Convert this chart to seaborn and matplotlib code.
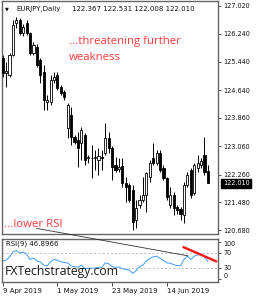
import matplotlib
matplotlib.use("Agg")
import matplotlib.pyplot as plt
import seaborn as sns
import pandas as pd
import numpy as np

# ---------------- data ----------------
opens = [125.55, 125.13, 125.07, 125.64, 126.54, 126.62, 126.26, 126.54, 126.26, 125.69,
         125.86, 125.49, 125.16, 124.30, 124.31, 124.93, 125.07, 124.73, 124.59, 123.57,
         123.94, 123.32, 123.23, 123.15, 123.38, 122.73, 122.73, 122.73, 122.67, 122.75,
         122.87, 123.29, 123.01, 122.53, 122.42, 122.50, 122.02, 121.96, 121.82, 120.97,
         121.40, 121.54, 121.68, 122.19, 122.73, 122.59, 122.87, 122.44, 122.16, 121.40,
         121.68, 121.34, 121.29, 121.12, 121.96, 122.39, 121.74, 122.44, 122.53, 122.81,
         122.367]
highs = [125.64, 125.44, 125.69, 126.62, 126.71, 126.68, 126.51, 126.62, 126.29, 126.00,
         125.95, 125.55, 125.35, 124.51, 125.07, 125.16, 125.16, 124.79, 124.65, 124.28,
         124.17, 123.38, 123.46, 123.60, 123.43, 122.81, 123.09, 122.95, 123.01, 122.95,
         123.72, 123.46, 123.07, 122.75, 122.73, 122.73, 122.19, 122.02, 121.96, 121.54,
         121.68, 122.19, 122.33, 122.67, 123.15, 122.95, 122.95, 122.53, 122.19, 121.91,
         121.77, 121.40, 121.34, 122.05, 122.33, 122.44, 122.59, 122.81, 122.73, 123.32,
         122.531]
lows = [125.01, 124.73, 125.01, 125.61, 126.40, 126.20, 126.17, 126.20, 125.64, 125.64,
        125.30, 124.85, 124.08, 124.08, 124.22, 124.85, 124.65, 124.51, 124.37, 123.29,
        123.09, 123.12, 122.47, 122.67, 122.53, 122.59, 122.16, 122.39, 122.25, 122.39,
        122.81, 122.87, 122.10, 122.33, 122.33, 121.91, 121.48, 121.48, 120.69, 120.75,
        121.31, 121.48, 121.20, 122.05, 122.53, 122.53, 122.33, 122.10, 121.54, 121.31,
        121.12, 121.14, 120.97, 120.89, 121.91, 121.60, 121.68, 122.33, 122.44, 122.25,
        122.008]
closes = [125.13, 125.18, 125.64, 126.48, 126.62, 126.26, 126.43, 126.26, 125.69, 125.92,
          125.35, 125.07, 124.37, 124.37, 124.93, 125.01, 124.70, 124.56, 124.45, 124.22,
          123.32, 123.18, 123.01, 123.52, 122.67, 122.75, 122.72, 122.75, 122.78, 122.74,
          123.29, 123.01, 122.47, 122.39, 122.47, 122.02, 121.91, 121.54, 120.92, 121.31,
          121.54, 121.68, 122.30, 122.59, 122.59, 122.87, 122.39, 122.16, 121.62, 121.68,
          121.31, 121.26, 121.14, 121.96, 122.25, 121.68, 122.53, 122.59, 122.64, 122.33,
          122.010]
rsi_values = [48, 50, 59, 72, 76, 69, 72, 66, 52, 56,
              48, 45, 37, 35, 46, 52, 50, 46, 44, 43,
              35, 33, 31, 37, 28, 28, 29, 29, 31, 31,
              43, 41, 33, 31, 32, 27, 26, 24, 15, 22,
              33, 37, 48, 55, 59, 61, 55, 50, 43, 42,
              38, 36, 35, 52, 61, 52, 61, 64, 66, 59,
              46.9]
date_labels = ["9 Apr 2019", "1 May 2019", "23 May 2019", "14 Jun 2019"]
date_ticks = [0, 16, 32, 48]
price_ticks = [127.020, 126.240, 125.440, 124.640, 123.860, 123.060, 122.260, 121.480, 120.680]
rsi_levels = [100, 70, 30, 0]
symbol_text = "EURJPY,Daily"
header_ohlc = "122.367 122.531 122.008 122.010"
last_price = 122.010
rsi_label = "RSI(9) 46.8966"
# annotation lines (bar index, RSI value)
black_trend_x = [9.9, 54.2]
black_trend_y = [135, 61.7]
red_trend_x = [52.6, 62.7]
red_trend_y = [86, 46]

# ---------------- style ----------------
sns.set_theme(style="white")
plt.rcParams['font.family'] = ['DejaVu Sans']

W, H = 257, 300
fig = plt.figure(figsize=(W / 100, H / 100), dpi=100)
fig.patch.set_facecolor('white')


def fx(px):
    return px / W


def fy(py):
    return 1 - py / H


ax = fig.add_axes([fx(2), fy(234), fx(218) - fx(2), fy(1) - fy(234)])
axr = fig.add_axes([fx(2), fy(282), fx(218) - fx(2), fy(238.5) - fy(282)])

df = pd.DataFrame(dict(i=np.arange(len(closes)), o=opens, h=highs, l=lows,
                       c=closes, rsi=rsi_values))
up = df.c >= df.o
body_bottom = np.minimum(df.o, df.c)
body_h = np.maximum(np.abs(df.c - df.o), 0.012)

ax.vlines(df.i, df.l, df.h, color='black', lw=0.7, zorder=2)
ax.bar(df.i[up], body_h[up], bottom=body_bottom[up], width=0.62,
       color='white', edgecolor='black', linewidth=0.6, zorder=3)
ax.bar(df.i[~up], body_h[~up], bottom=body_bottom[~up], width=0.62,
       color='black', edgecolor='black', linewidth=0.6, zorder=3)

xlim = (-0.2, 62.95)
ax.set_xlim(*xlim)
ax.set_ylim(120.58, 127.16)
ax.set_xticks([])
ax.yaxis.tick_right()
ax.set_yticks(price_ticks)
ax.set_yticklabels([f"{p:.3f}" for p in price_ticks])
ax.tick_params(axis='y', which='both', right=True, length=2.5, width=0.6,
               color='#333333', labelsize=4.7, pad=1.5, labelcolor='#111111')
ax.set_xlabel('')
ax.set_ylabel('')

ax.annotate(f"{last_price:.3f}", xy=(1.0, last_price), xycoords=('axes fraction', 'data'),
            xytext=(3.6, 0), textcoords='offset points', fontsize=4.7, color='white',
            va='center', ha='left',
            bbox=dict(boxstyle='square,pad=0.25', fc='black', ec='black'))

# RSI panel
sns.lineplot(data=df, x='i', y='rsi', ax=axr, color='#3d9bff', lw=0.7)
for lev in [70, 30]:
    axr.axhline(lev, color='#b5b5b5', lw=0.6, ls=(0, (2.5, 2.5)), zorder=1)
axr.plot(red_trend_x, red_trend_y, color='#f01818', lw=1.7, solid_capstyle='butt', zorder=5)
axr.plot(black_trend_x, black_trend_y, color='#333333', lw=0.6, clip_on=False, zorder=6)
axr.set_xlim(*xlim)
axr.set_ylim(-8, 108)
axr.yaxis.tick_right()
axr.set_yticks(rsi_levels)
axr.set_yticklabels([str(v) for v in rsi_levels])
axr.tick_params(axis='y', which='both', right=True, length=2.5, width=0.6,
                color='#333333', labelsize=4.7, pad=1.5, labelcolor='#111111')
for lab, lev in zip(axr.get_yticklabels(), rsi_levels):
    if lev == 100:
        lab.set_va('top')
    elif lev == 0:
        lab.set_va('bottom')
axr.set_xticks(date_ticks)
axr.set_xticklabels(date_labels, ha='left')
axr.tick_params(axis='x', which='both', bottom=True, length=3, width=0.6,
                color='#333333', labelsize=5, pad=1.5, labelcolor='#111111')
axr.set_xlabel('')
axr.set_ylabel('')

for a in (ax, axr):
    for s in a.spines.values():
        s.set_color('#666666')
        s.set_linewidth(1.0)
        s.set_visible(True)

# ---------------- texts ----------------
fig.text(fx(5), fy(8.6), "\u25bc", fontsize=3.6, va='center', ha='left', color='#111111')
fig.text(fx(16), fy(8.6), symbol_text, fontsize=5, va='center', ha='left', color='#111111')
fig.text(fx(72), fy(8.6), header_ohlc, fontsize=5, va='center', ha='left', color='#111111')

red = '#ff3a3a'
fig.text(fx(69), fy(44.3), "...threatening further", fontsize=8.2, color=red,
         family=['Open Sans', 'DejaVu Sans'], va='baseline', ha='left')
fig.text(fx(69), fy(60), "weakness", fontsize=8.2, color=red,
         family=['Open Sans', 'DejaVu Sans'], va='baseline', ha='left')
fig.text(fx(3.5), fy(226.6), "...lower RSI", fontsize=8.2, color=red,
         family=['Open Sans', 'DejaVu Sans'], va='baseline', ha='left')

fig.text(fx(6), fy(244), rsi_label, fontsize=5, va='center', ha='left', color='#111111')
fig.text(fx(5), fy(274.5), "FXTechstrategy.com", fontsize=8.8, color='#1a1a1a',
         family=['Open Sans', 'DejaVu Sans'], va='baseline', ha='left')

fig.savefig("out.png", dpi=100, facecolor='white')
